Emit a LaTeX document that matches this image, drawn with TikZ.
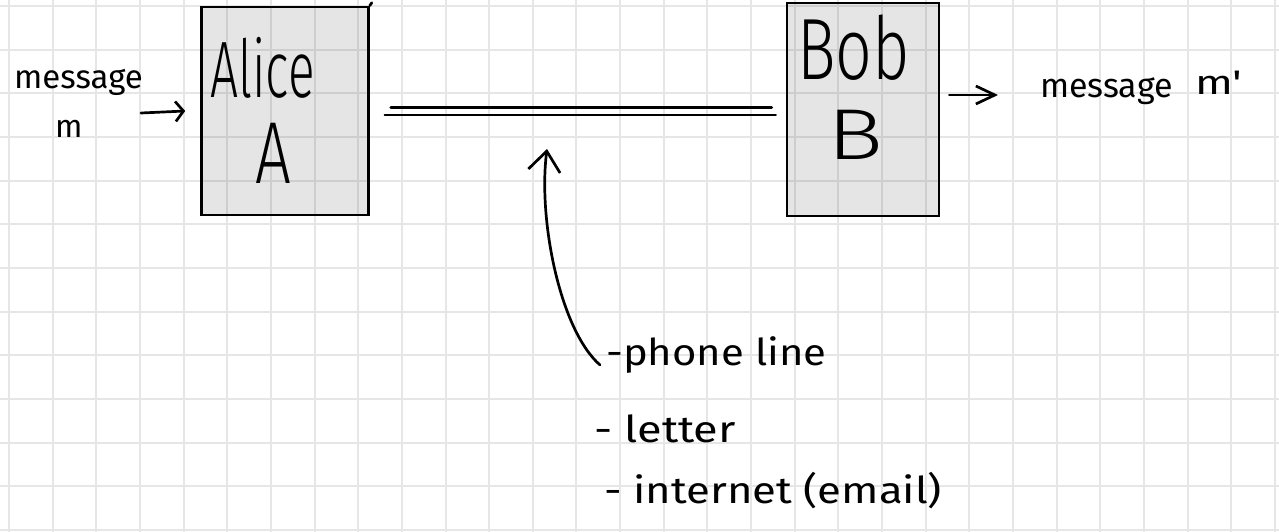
\documentclass[tikz,border=0pt]{standalone}
\usepackage{fontspec}
\setmainfont{Fira Sans}[UprightFont=* Light]
\newfontfamily\pen{Fira Sans}
\usetikzlibrary{arrows.meta}
\definecolor{gridline}{HTML}{E6E6E6}
\newcommand\hw[2]{\scalebox{#1}[1]{#2}}
\begin{document}
\begin{tikzpicture}[x=1pt,y=-1pt,
  box/.style={rectangle, draw=black, line width=2.6pt, fill=black, fill opacity=0.1, inner sep=0pt},
  hand/.style={inner sep=0pt, anchor=base west, text=black},
  ink/.style={line width=2.7pt, line cap=round, line join=round},
  wire/.style={line width=3pt, line cap=round},
]
\useasboundingbox (0,0) rectangle (1279,532);
\fill[white] (0,0) rectangle (1279,532);
% squared paper
\foreach \i in {0,...,29}
  \draw[gridline, line width=2pt] ({9+43.65*\i},0) -- ({9+43.65*\i},532);
\foreach \j in {0,...,12}
  \draw[gridline, line width=2pt] (0,{6+43.65*\j}) -- (1279,{6+43.65*\j});

% the two parties
\node[box, minimum width=167pt, minimum height=208pt] (alice) at (285,111) {};
\node[box, minimum width=152pt, minimum height=213pt] (bob) at (863,109.5) {};
\draw[ink] (alice.north east) -- ++(2,-3);

\node[hand, font=\fontsize{80}{90}\selectfont] (alicename) at (210,98) {\hw{0.62}{Alice}};
\node[hand, font=\fontsize{88}{96}\selectfont] (alicesym) at (255,183) {\hw{0.72}{A}};
\node[hand, font=\fontsize{87}{96}\selectfont] (bobname) at (797,80) {\hw{0.74}{Bob}};
\node[hand, font=\fontsize{72}{80}\selectfont] (bobsym) at (827,160) {\hw{1.3}{B}};

% input and output messages
\node[hand, font=\pen\fontsize{33}{40}\selectfont] (msgin) at (14,89) {message};
\node[hand, font=\pen\fontsize{32}{38}\selectfont] (msgvar) at (55,137) {m};
\node[hand, font=\pen\fontsize{34}{40}\selectfont] (msgout) at (1040,98) {message};
\node[hand, font=\pen\fontsize{34}{40}\selectfont] (msgoutvar) at (1195,95) {\hw{1.3}{m'}};

\coordinate (inL) at (141,113);
\draw[ink, -{Straight Barb[length=8pt,width=20pt]}] (inL) -- ([xshift=-15pt]alice.west);
\coordinate (outR) at (998,95);
\draw[ink, -{Straight Barb[length=19pt,width=18pt]}] ([xshift=9pt]bob.east |- 0,95) -- (outR);

% the channel
\draw[wire, shorten <=21pt, shorten >=14pt] (alice.east |- 0,107.5) -- (bob.west |- 0,107.5);
\draw[wire, line width=2.6pt, shorten <=15pt, shorten >=10pt] (alice.east |- 0,115) -- (bob.west |- 0,115);

% examples of channels
\node[hand, font=\pen\fontsize{37}{44}\selectfont] (phone) at (606,365) {\hw{1.13}{-phone line}};
\node[hand, font=\pen\fontsize{37}{44}\selectfont] (letter) at (594,442) {\hw{1.22}{- letter}};
\node[hand, font=\pen\fontsize{37}{44}\selectfont] (inet) at (604,503) {\hw{1.18}{- internet (email)}};

\coordinate (tap) at (547,149);
\draw[ink, -{Straight Barb[length=20pt,width=32pt]}] ([xshift=-6pt]phone.base west)
  .. controls (560,330) and (538,220) .. (tap);
\end{tikzpicture}
\end{document}
